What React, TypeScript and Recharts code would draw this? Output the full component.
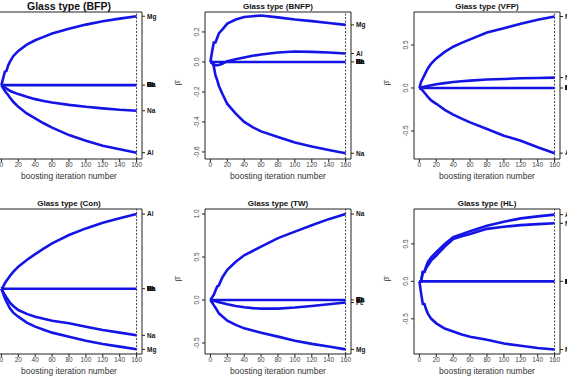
import { LineChart, Line, XAxis, YAxis, ReferenceLine } from 'recharts'

// iterations at which the coefficient paths are sampled
const iters = [0, 2, 4, 6, 8, 10, 14, 20, 30, 40, 50, 60, 80, 100, 120, 140, 160]
const iterTicks = [0, 20, 40, 60, 80, 100, 120, 140, 160]
const zeroPath = iters.map(() => 0)
const zeroNames = ['RI', 'Si', 'K', 'Ca', 'Ba']

// Glass type (BFP)
const bfpMg = [0, 0.068, 0.135, 0.145, 0.2, 0.236, 0.294, 0.348, 0.412, 0.456, 0.49, 0.524, 0.574, 0.615, 0.649, 0.676, 0.7]
const bfpNa = [0, -0.012, -0.024, -0.035, -0.045, -0.057, -0.072, -0.091, -0.118, -0.142, -0.16, -0.176, -0.2, -0.22, -0.236, -0.25, -0.26]
const bfpAl = [0, -0.03, -0.057, -0.08, -0.1, -0.125, -0.169, -0.22, -0.287, -0.338, -0.387, -0.432, -0.507, -0.564, -0.615, -0.652, -0.686]

// Glass type (BNFP)
const bnfpMg = [0, 0.07, 0.13, 0.13, 0.16, 0.19, 0.215, 0.256, 0.283, 0.3, 0.305, 0.31, 0.297, 0.283, 0.272, 0.26, 0.247]
const bnfpAl = [0, -0.008, -0.015, -0.022, -0.022, -0.02, -0.012, 0.005, 0.018, 0.03, 0.041, 0.05, 0.063, 0.07, 0.067, 0.063, 0.056]
const bnfpNa = [0, 0, -0.03, -0.09, -0.12, -0.16, -0.21, -0.28, -0.345, -0.4, -0.435, -0.463, -0.5, -0.537, -0.564, -0.587, -0.609]

// Glass type (VFP)
const vfpMg = [0, 0.07, 0.11, 0.15, 0.19, 0.227, 0.285, 0.344, 0.42, 0.48, 0.525, 0.566, 0.645, 0.695, 0.746, 0.793, 0.832]
const vfpNa = [0, 0.005, 0.01, 0.015, 0.02, 0.024, 0.032, 0.043, 0.057, 0.07, 0.079, 0.086, 0.098, 0.105, 0.113, 0.117, 0.121]
const vfpAl = [0, -0.015, -0.03, -0.055, -0.078, -0.105, -0.145, -0.184, -0.254, -0.31, -0.357, -0.4, -0.477, -0.555, -0.613, -0.69, -0.758]

// Glass type (Con)
const conAl = [0, 0.02, 0.057, 0.085, 0.11, 0.136, 0.18, 0.236, 0.307, 0.371, 0.43, 0.486, 0.575, 0.646, 0.707, 0.754, 0.8]
const conNa = [0, -0.035, -0.068, -0.095, -0.12, -0.15, -0.186, -0.229, -0.27, -0.3, -0.323, -0.343, -0.37, -0.407, -0.443, -0.471, -0.5]
const conMg = [0, -0.05, -0.1, -0.14, -0.175, -0.21, -0.257, -0.3, -0.364, -0.407, -0.44, -0.471, -0.514, -0.557, -0.593, -0.621, -0.65]

// Glass type (TW)
const twNa = [0, 0.03, 0.06, 0.11, 0.155, 0.17, 0.26, 0.35, 0.445, 0.52, 0.57, 0.62, 0.72, 0.795, 0.87, 0.94, 1.0]
const twFe = [0, -0.005, -0.01, -0.015, -0.02, -0.025, -0.035, -0.05, -0.07, -0.085, -0.095, -0.1, -0.1, -0.088, -0.07, -0.05, -0.03]
const twMg = [0, -0.03, -0.06, -0.09, -0.12, -0.155, -0.19, -0.24, -0.29, -0.33, -0.355, -0.38, -0.426, -0.473, -0.51, -0.54, -0.574]

// Glass type (HL)
const hlAl = [0, 0, 0.124, 0.124, 0.2, 0.257, 0.32, 0.39, 0.5, 0.59, 0.63, 0.668, 0.743, 0.796, 0.84, 0.867, 0.89]
const hlNa = [0, 0, 0.124, 0.13, 0.18, 0.21, 0.28, 0.345, 0.465, 0.566, 0.6, 0.633, 0.7, 0.728, 0.75, 0.763, 0.774]
const hlMg = [0, -0.16, -0.3, -0.305, -0.376, -0.43, -0.5, -0.56, -0.63, -0.67, -0.71, -0.74, -0.78, -0.83, -0.86, -0.89, -0.91]

const BLUE = '#1414e6'
const INK = '#222'
const BOX_W = 146
const PAD_L = 32
const PAD_R = 32
const PAD_T = 20
const PAD_B = 26

type Path = { names: string[]; values: number[] }
type Panel = {
  title: string
  titleSize: number
  left: number
  top: number
  boxH: number
  domain: [number, number]
  yTicks: number[]
  paths: Path[]
}

const panels: Panel[] = [
  {
    title: 'Glass type (BFP)', titleSize: 10.5, left: -4, top: 12, boxH: 147,
    domain: [-0.75, 0.743], yTicks: [-0.5, 0, 0.5],
    paths: [
      { names: zeroNames.concat('Fe'), values: zeroPath },
      { names: ['Mg'], values: bfpMg },
      { names: ['Na'], values: bfpNa },
      { names: ['Al'], values: bfpAl },
    ],
  },
  {
    title: 'Glass type (BNFP)', titleSize: 8, left: 205, top: 12, boxH: 147,
    domain: [-0.647, 0.333], yTicks: [-0.6, -0.4, -0.2, 0, 0.2],
    paths: [
      { names: zeroNames.concat('Fe'), values: zeroPath },
      { names: ['Mg'], values: bnfpMg },
      { names: ['Al'], values: bnfpAl },
      { names: ['Na'], values: bnfpNa },
    ],
  },
  {
    title: 'Glass type (VFP)', titleSize: 8, left: 414, top: 12, boxH: 147,
    domain: [-0.826, 0.884], yTicks: [-0.5, 0, 0.5],
    paths: [
      { names: zeroNames.concat('Fe'), values: zeroPath },
      { names: ['Mg'], values: vfpMg },
      { names: ['Na'], values: vfpNa },
      { names: ['Al'], values: vfpAl },
    ],
  },
  {
    title: 'Glass type (Con)', titleSize: 8, left: -4, top: 209, boxH: 145,
    domain: [-0.7, 0.854], yTicks: [-0.5, 0, 0.5],
    paths: [
      { names: zeroNames.concat('Fe'), values: zeroPath },
      { names: ['Al'], values: conAl },
      { names: ['Na'], values: conNa },
      { names: ['Mg'], values: conMg },
    ],
  },
  {
    title: 'Glass type (TW)', titleSize: 8, left: 205, top: 209, boxH: 145,
    domain: [-0.628, 1.058], yTicks: [-0.5, 0, 0.5, 1],
    paths: [
      { names: zeroNames, values: zeroPath },
      { names: ['Na'], values: twNa },
      { names: ['Fe'], values: twFe },
      { names: ['Mg'], values: twMg },
    ],
  },
  {
    title: 'Glass type (HL)', titleSize: 8, left: 414, top: 209, boxH: 145,
    domain: [-0.969, 0.965], yTicks: [-0.5, 0, 0.5],
    paths: [
      { names: zeroNames.concat('Fe'), values: zeroPath },
      { names: ['Al'], values: hlAl },
      { names: ['Na'], values: hlNa },
      { names: ['Mg'], values: hlMg },
    ],
  },
]

function LeftTick({ x, y, payload }: any) {
  return (
    <text transform={`translate(${x - 1},${y}) rotate(-90)`} textAnchor="middle" fontSize={6.5} fill="#444">
      {Number(payload.value).toFixed(1)}
    </text>
  )
}

function BottomTick({ x, y, payload }: any) {
  return (
    <text x={x} y={y} dy="0.71em" textAnchor="middle" fontSize={6.5} fill="#444">
      {payload.value}
    </text>
  )
}

function BottomTitle({ viewBox }: any) {
  return (
    <text x={viewBox.x + viewBox.width / 2} y={viewBox.y + 17} dy="0.35em" textAnchor="middle" fontSize={8.5} fill="#333">
      boosting iteration number
    </text>
  )
}

// variable names written at the end value of each path, several may share a spot
function EndLabel({ x, y, payload, paths }: any) {
  const names = (paths as Path[])
    .filter((p) => p.values[p.values.length - 1] === payload.value)
    .flatMap((p) => p.names)
  return (
    <g>
      {names.map((n) => (
        <text key={n} x={x} y={y} dy="0.35em" fontSize={6.5} fontWeight="bold" fill="#111">
          {n}
        </text>
      ))}
    </g>
  )
}

function PathPanel({ panel }: { panel: Panel }) {
  const data = iters.map((it, i) => {
    const row: Record<string, number> = { it }
    panel.paths.forEach((p, k) => {
      row['p' + k] = p.values[i]
    })
    return row
  })
  const ends = Array.from(new Set(panel.paths.map((p) => p.values[p.values.length - 1])))
  const height = PAD_T + panel.boxH + PAD_B

  return (
    <div style={{ position: 'absolute', left: panel.left - PAD_L, top: panel.top - PAD_T }}>
      <LineChart width={PAD_L + BOX_W + PAD_R} height={height} data={data} margin={{ top: 8, right: 0, bottom: 0, left: 0 }}>
        <XAxis
          xAxisId="b"
          dataKey="it"
          type="number"
          domain={[-6.4, 166.4]}
          ticks={iterTicks}
          interval={0}
          allowDataOverflow
          height={PAD_B}
          tickSize={3}
          tickMargin={0}
          tick={<BottomTick />}
          stroke={INK}
          label={<BottomTitle />}
        />
        <XAxis
          xAxisId="t"
          orientation="top"
          type="number"
          dataKey="it"
          domain={[-6.4, 166.4]}
          allowDataOverflow
          height={12}
          tick={false}
          tickLine={false}
          stroke={INK}
          label={{ value: panel.title, position: 'center', fontSize: panel.titleSize, fontWeight: 'bold', fill: '#111' }}
        />
        <YAxis
          yAxisId="l"
          type="number"
          domain={panel.domain}
          ticks={panel.yTicks}
          interval={0}
          allowDataOverflow
          width={PAD_L}
          tickSize={3}
          tickMargin={2}
          tick={<LeftTick />}
          stroke={INK}
          label={{ value: 'β̂', angle: -90, position: 'insideLeft', offset: 4, fontSize: 8, fill: '#333' }}
        />
        <YAxis
          yAxisId="r"
          orientation="right"
          type="number"
          domain={panel.domain}
          ticks={ends}
          interval={0}
          allowDataOverflow
          width={PAD_R}
          tickSize={3}
          tickMargin={2}
          tick={(props: any) => <EndLabel {...props} paths={panel.paths} />}
          stroke={INK}
        />
        <ReferenceLine xAxisId="b" yAxisId="l" x={160} stroke="#111" strokeWidth={0.8} strokeDasharray="2 1.5" />
        {panel.paths.map((p, k) => (
          <Line
            key={k}
            xAxisId="b"
            yAxisId="l"
            dataKey={'p' + k}
            type="linear"
            stroke={BLUE}
            strokeWidth={2.6}
            dot={false}
            activeDot={false}
            isAnimationActive={false}
          />
        ))}
      </LineChart>
    </div>
  )
}

export default function App() {
  return (
    <div
      style={{
        position: 'absolute',
        left: 0,
        top: 0,
        width: 567,
        height: 381,
        overflow: 'hidden',
        background: '#fff',
        fontFamily: '"Liberation Sans", Arial, sans-serif',
      }}
    >
      {panels.map((p) => (
        <PathPanel key={p.title} panel={p} />
      ))}
    </div>
  )
}
